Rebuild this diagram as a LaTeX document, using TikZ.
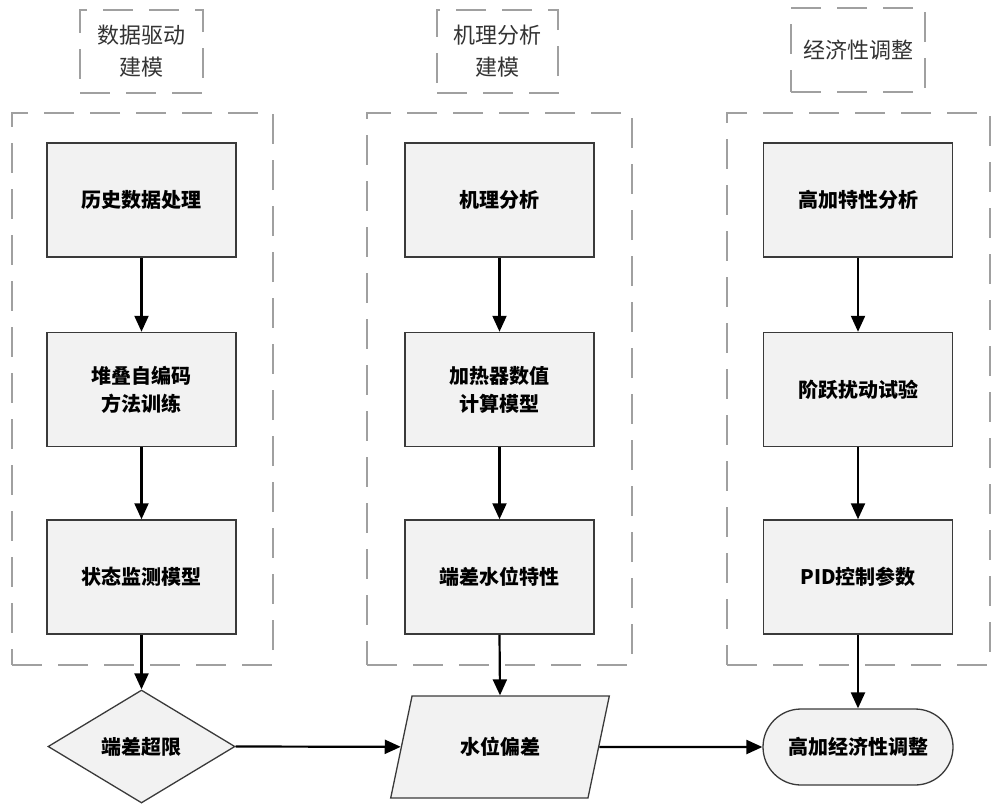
\documentclass[tikz,border=0pt]{standalone}
\usepackage{fontspec}
\setmainfont{Noto Sans CJK SC}
\usetikzlibrary{arrows.meta,shapes.geometric,shapes.misc}
\definecolor{boxfill}{HTML}{F2F2F2}
\definecolor{boxline}{HTML}{3A3A3A}
\definecolor{dashgray}{HTML}{A0A0A0}
\definecolor{labeltext}{HTML}{333333}
\tikzset{
  procbox/.style={draw=boxline, line width=1.5pt, fill=boxfill, minimum width=189pt, minimum height=114pt, inner sep=0pt, font=\fontsize{20pt}{28pt}\selectfont\bfseries, align=center},
  groupbox/.style={draw=dashgray, line width=2pt, dash pattern=on 30pt off 16pt},
  labelbox/.style={draw=dashgray, line width=2pt, dash pattern=on 30pt off 16pt, inner sep=0pt, font=\fontsize{22pt}{32pt}\selectfont, text=labeltext, align=center},
  flow/.style={-{Triangle[length=16pt,width=14pt]}, line width=2.2pt, draw=black},
  shapeline/.style={draw=boxline, line width=1.3pt, fill=boxfill, inner sep=0pt, font=\fontsize{20pt}{28pt}\selectfont\bfseries}
}
\begin{document}
\begin{tikzpicture}[x=1pt,y=-1pt]
\useasboundingbox (0,0) rectangle (1000,811);
% label boxes
\node[labelbox, minimum width=123pt, minimum height=83pt] (lab1) at (141.5,51.5) {数据驱动\\建模};
\node[labelbox, minimum width=121pt, minimum height=83pt] (lab2) at (497.5,51.5) {机理分析\\建模};
\node[labelbox, minimum width=134pt, minimum height=84pt] (lab3) at (858,50) {经济性调整};
% group containers
\node[groupbox, minimum width=261pt, minimum height=552pt] (g1) at (142.5,389) {};
\node[groupbox, minimum width=265pt, minimum height=552pt] (g2) at (499.5,389) {};
\node[groupbox, minimum width=263pt, minimum height=552pt] (g3) at (858.5,389) {};
% column 1
\node[procbox] (a1) at (141.5,200) {历史数据处理};
\node[procbox] (a2) at (141.5,389.5) {堆叠自编码\\方法训练};
\node[procbox] (a3) at (141.5,577) {状态监测模型};
% column 2
\node[procbox] (b1) at (499.5,200) {机理分析};
\node[procbox] (b2) at (499.5,389.5) {加热器数值\\计算模型};
\node[procbox] (b3) at (499.5,577) {端差水位特性};
% column 3
\node[procbox] (c1) at (858,200) {高加特性分析};
\node[procbox] (c2) at (858,389.5) {阶跃扰动试验};
\node[procbox] (c3) at (858,577) {PID控制参数};
% bottom shapes
\node[shapeline, diamond, aspect=1.65, minimum width=187pt, minimum height=113pt] (d) at (141.5,746.5) {端差超限};
\node[shapeline, trapezium, trapezium stretches=true, trapezium left angle=63.4, trapezium right angle=116.6, minimum width=220pt, minimum height=102pt] (p) at (500,747) {水位偏差};
\node[shapeline, rounded rectangle, minimum width=190pt, minimum height=76pt] (r) at (858,747) {高加经济性调整};
% arrows
\draw[flow] (a1) -- (a2);
\draw[flow] (a2) -- (a3);
\draw[flow] (a3) -- (d);
\draw[flow] (b1) -- (b2);
\draw[flow] (b2) -- (b3);
\draw[flow] (b3.south) -- (p.north);
\draw[flow] (c1) -- (c2);
\draw[flow] (c2) -- (c3);
\draw[flow] (c3) -- (r);
\draw[flow] (d.east) -- (p);
\draw[flow] (p) -- (r.west);
\end{tikzpicture}
\end{document}
